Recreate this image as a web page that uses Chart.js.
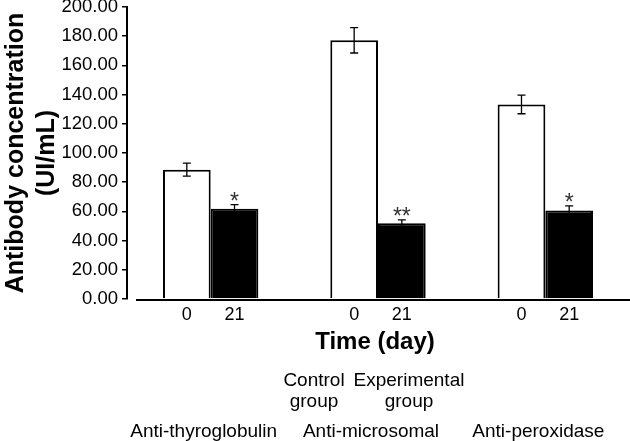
<!DOCTYPE html>
<html>
<head>
<meta charset="utf-8">
<script src="https://cdn.jsdelivr.net/npm/chart.js@4.4.0/dist/chart.umd.min.js"></script>
<style>
  body { margin: 0; background: #fff; }
  #wrap { width: 630px; height: 441px; }
</style>
</head>
<body>
<div id="wrap"><canvas id="chart" width="630" height="441"></canvas></div>
<script>
// values
const groups = ['Anti-thyroglobulin', 'Anti-microsomal', 'Anti-peroxidase'];
const days = ['0', '21'];
const seriesNames = [['Control', 'group'], ['Experimental', 'group']];
const control = [88.6, 177.2, 133.3];
const controlErr = [4.4, 8.7, 6.4];
const experimental = [61.9, 51.9, 60.6];
const experimentalErr = [2.8, 2.3, 3.2];
const signif = ['*', '**', '*'];
const yTicks = [0, 20, 40, 60, 80, 100, 120, 140, 160, 180, 200];

const FONT = '"Liberation Sans", Arial, Helvetica, sans-serif';
Chart.defaults.font.family = FONT;
Chart.defaults.color = '#000';

// error bars, stars and all the text under the axis
const extras = {
  id: 'extras',
  afterDatasetsDraw(chart) {
    const { ctx, scales: { y } } = chart;
    const vals = [control, experimental];
    const errs = [controlErr, experimentalErr];
    ctx.save();
    ctx.strokeStyle = '#000';
    ctx.lineWidth = 1.3;
    for (let d = 0; d < 2; d++) {
      chart.getDatasetMeta(d).data.forEach((bar, i) => {
        const top = y.getPixelForValue(vals[d][i] + errs[d][i]);
        const bot = y.getPixelForValue(vals[d][i] - errs[d][i]);
        ctx.beginPath();
        ctx.moveTo(bar.x, top); ctx.lineTo(bar.x, bot);
        ctx.moveTo(bar.x - 4, top); ctx.lineTo(bar.x + 4, top);
        ctx.moveTo(bar.x - 4, bot); ctx.lineTo(bar.x + 4, bot);
        ctx.stroke();
        if (d === 1) {
          ctx.fillStyle = '#333';
          ctx.font = '23px ' + FONT;
          ctx.textAlign = 'center';
          ctx.textBaseline = 'alphabetic';
          ctx.fillText(signif[i], bar.x, top + 4);
        }
      });
    }
    ctx.restore();
  },
  afterDraw(chart) {
    const { ctx, chartArea, scales: { x, y } } = chart;
    const base = y.getPixelForValue(0);
    ctx.save();
    // x axis line, starts a bit right of the y axis
    ctx.strokeStyle = '#000';
    ctx.lineWidth = 2;
    ctx.beginPath();
    ctx.moveTo(chartArea.left + 9, base + 1);
    ctx.lineTo(chart.width, base + 1);
    ctx.stroke();

    ctx.fillStyle = '#000';
    ctx.textAlign = 'center';
    ctx.textBaseline = 'middle';
    ctx.font = '18px ' + FONT;
    for (let d = 0; d < 2; d++) {
      chart.getDatasetMeta(d).data.forEach(bar => {
        ctx.fillText(days[d], bar.x, base + 16);
      });
    }

    ctx.font = 'bold 24px ' + FONT;
    ctx.fillText('Time (day)', (chartArea.left + chartArea.right) / 2 - 3, base + 43);

    ctx.font = '19px ' + FONT;
    ctx.textBaseline = 'alphabetic';
    const mid = x.getPixelForValue(1);
    const legendX = [mid - 64, mid + 31];
    seriesNames.forEach((lines, s) => {
      lines.forEach((t, k) => ctx.fillText(t, legendX[s], base + 87 + k * 21));
    });
    groups.forEach((g, i) => {
      ctx.fillText(g, x.getPixelForValue(i) - 7, base + 138);
    });
    ctx.restore();
  }
};

new Chart(document.getElementById('chart'), {
  type: 'bar',
  data: {
    labels: groups,
    datasets: [
      {
        label: 'Control group',
        data: control,
        backgroundColor: '#fff',
        borderColor: '#000',
        borderWidth: 2,
        categoryPercentage: 0.57,
        barPercentage: 1
      },
      {
        label: 'Experimental group',
        data: experimental,
        backgroundColor: '#000',
        borderColor: '#000',
        borderWidth: 2,
        categoryPercentage: 0.57,
        barPercentage: 1
      }
    ]
  },
  options: {
    responsive: false,
    animation: false,
    layout: { padding: { top: 7, right: 1, bottom: 142, left: 0 } },
    plugins: { legend: { display: false }, tooltip: { enabled: false } },
    scales: {
      x: { display: false },
      y: {
        min: 0,
        max: 200,
        afterBuildTicks: s => { s.ticks = yTicks.map(v => ({ value: v })); },
        afterFit: s => { s.width = 127; s.paddingTop = 0; s.paddingBottom = 0; },
        ticks: {
          padding: 4,
          font: { size: 18.5 },
          color: '#000',
          callback: v => Number(v).toFixed(2)
        },
        grid: {
          drawOnChartArea: false,
          drawTicks: true,
          tickLength: 5,
          color: '#000',
          lineWidth: 1.5
        },
        border: { display: true, color: '#000', width: 2 },
        title: {
          display: true,
          text: ['Antibody concentration', '(UI/mL)'],
          font: { size: 25, weight: 'bold', lineHeight: 1.25 },
          color: '#000',
          padding: 0
        }
      }
    }
  },
  plugins: [extras]
});
</script>
</body>
</html>
